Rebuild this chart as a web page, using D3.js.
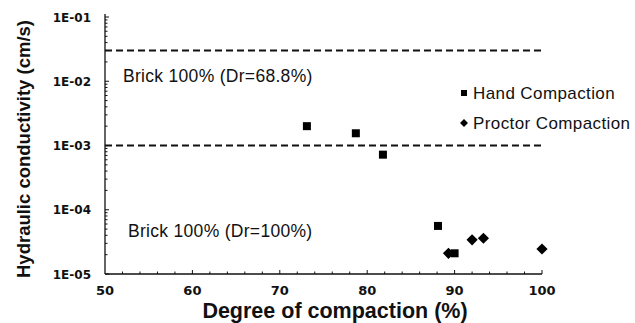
<!DOCTYPE html>
<html>
    <head>
        <script src="https://d3js.org/d3.v7.min.js"></script>
        <style>
            body { margin: 0; background: #fff; }
            text { font-family: "Liberation Sans", Arial, sans-serif; fill: #111; }
            text.tick { font-family: "DejaVu Sans", sans-serif; font-weight: bold; }
        </style>
    </head>
    <body>
        <svg width="635" height="323" id="chart"></svg>
        <script>
            // data
            const handX = [73.1, 78.7, 81.8, 88.1, 90.0];
            const handY = [2.0e-3, 1.55e-3, 7.2e-4, 5.6e-5, 2.1e-5];
            const proctorX = [89.3, 92.0, 93.3, 100];
            const proctorY = [2.1e-5, 3.4e-5, 3.6e-5, 2.45e-5];
            const refLines = [0.03, 0.001];
            const refLabels = ["Brick 100% (Dr=68.8%)", "Brick 100% (Dr=100%)"];
            const xTicks = [50, 60, 70, 80, 90, 100];
            const yTicks = [1e-5, 1e-4, 1e-3, 1e-2, 1e-1];
            const yTickLabels = ["1E-05", "1E-04", "1E-03", "1E-02", "1E-01"];
            const seriesNames = ["Hand Compaction", "Proctor Compaction"];

            let svg = d3.select("#chart");

            let x = d3.scaleLinear().domain([50, 100]).range([105, 542]);
            let y = d3.scaleLog().domain([1e-5, 1e-1]).range([274, 17]);

            // x axis
            let xAxis = svg.append("g").attr("transform", "translate(0,274)");
            xAxis.append("line").attr("x1", x(50)).attr("x2", x(100))
                .attr("stroke", "#111").attr("stroke-width", 1.3);
            xAxis.selectAll("line.minor").data(d3.range(52, 101, 2))
                .join("line").attr("class", "minor")
                .attr("x1", d => x(d)).attr("x2", d => x(d))
                .attr("y1", 0).attr("y2", d => d % 10 == 0 ? -4 : -2.5)
                .attr("stroke", "#111");
            xAxis.selectAll("text").data(xTicks)
                .join("text").attr("class", "tick")
                .attr("x", d => x(d)).attr("y", 21)
                .attr("text-anchor", "middle")
                .style("font-size", "13px")
                .text(d => d);

            // y axis
            let yAxis = svg.append("g").attr("transform", "translate(105,0)");
            yAxis.append("line").attr("y1", y(1e-5)).attr("y2", y(1e-1) - 3)
                .attr("stroke", "#111").attr("stroke-width", 1.3);
            let minorY = [];
            yTicks.slice(0, 4).forEach(t => d3.range(2, 10).forEach(k => minorY.push(t * k)));
            yAxis.selectAll("line.minor").data(minorY)
                .join("line").attr("class", "minor")
                .attr("x1", 0).attr("x2", 2.5)
                .attr("y1", d => y(d)).attr("y2", d => y(d))
                .attr("stroke", "#111");
            yAxis.selectAll("line.major").data(yTicks)
                .join("line").attr("class", "major")
                .attr("x1", 0).attr("x2", 4)
                .attr("y1", d => y(d)).attr("y2", d => y(d))
                .attr("stroke", "#111");
            yAxis.selectAll("text").data(yTicks)
                .join("text").attr("class", "tick")
                .attr("x", -14).attr("y", d => y(d) + 4.5)
                .attr("text-anchor", "end")
                .style("font-size", "12px")
                .text((d, i) => yTickLabels[i]);

            // axis titles
            svg.append("text")
                .attr("transform", "translate(30,149) rotate(-90)")
                .attr("text-anchor", "middle")
                .attr("font-size", 18.5).attr("font-weight", "bold")
                .text("Hydraulic conductivity (cm/s)");
            svg.append("text")
                .attr("x", 335).attr("y", 318)
                .attr("text-anchor", "middle")
                .attr("font-size", 21.5).attr("font-weight", "bold")
                .text("Degree of compaction (%)");

            // reference lines
            svg.selectAll("line.ref").data(refLines)
                .join("line").attr("class", "ref")
                .attr("x1", x(50)).attr("x2", x(100))
                .attr("y1", d => y(d)).attr("y2", d => y(d))
                .attr("stroke", "#111").attr("stroke-width", 2)
                .attr("stroke-dasharray", "7,4");
            svg.selectAll("text.ref").data(refLabels)
                .join("text").attr("class", "ref")
                .attr("x", (d, i) => i == 0 ? 123 : 128)
                .attr("y", (d, i) => i == 0 ? 82 : 237)
                .attr("font-size", 17.5)
                .attr("letter-spacing", 0.3)
                .text(d => d);

            // points
            let hand = handX.map((d, i) => ({x: d, y: handY[i]}));
            let proctor = proctorX.map((d, i) => ({x: d, y: proctorY[i]}));
            let square = d3.symbol().type(d3.symbolSquare).size(64);
            let diamond = d3.symbol().type(d3.symbolDiamond2).size(80);

            svg.selectAll("path.hand").data(hand)
                .join("path").attr("class", "hand")
                .attr("d", square)
                .attr("transform", d => `translate(${x(d.x)},${y(d.y)})`)
                .attr("fill", "#000");
            svg.selectAll("path.proctor").data(proctor)
                .join("path").attr("class", "proctor")
                .attr("d", diamond)
                .attr("transform", d => `translate(${x(d.x)},${y(d.y)})`)
                .attr("fill", "#000");

            // legend
            let legend = svg.append("g");
            let legendSym = [d3.symbol().type(d3.symbolSquare).size(36), d3.symbol().type(d3.symbolDiamond2).size(40)];
            seriesNames.forEach((name, i) => {
                let ly = i == 0 ? 93 : 123;
                legend.append("path").attr("d", legendSym[i])
                    .attr("transform", `translate(464,${ly})`)
                    .attr("fill", "#000");
                legend.append("text").attr("x", 473).attr("y", ly + 6)
                    .attr("font-size", 17)
                    .attr("letter-spacing", 0.4)
                    .text(name);
            });
        </script>
    </body>
</html>
